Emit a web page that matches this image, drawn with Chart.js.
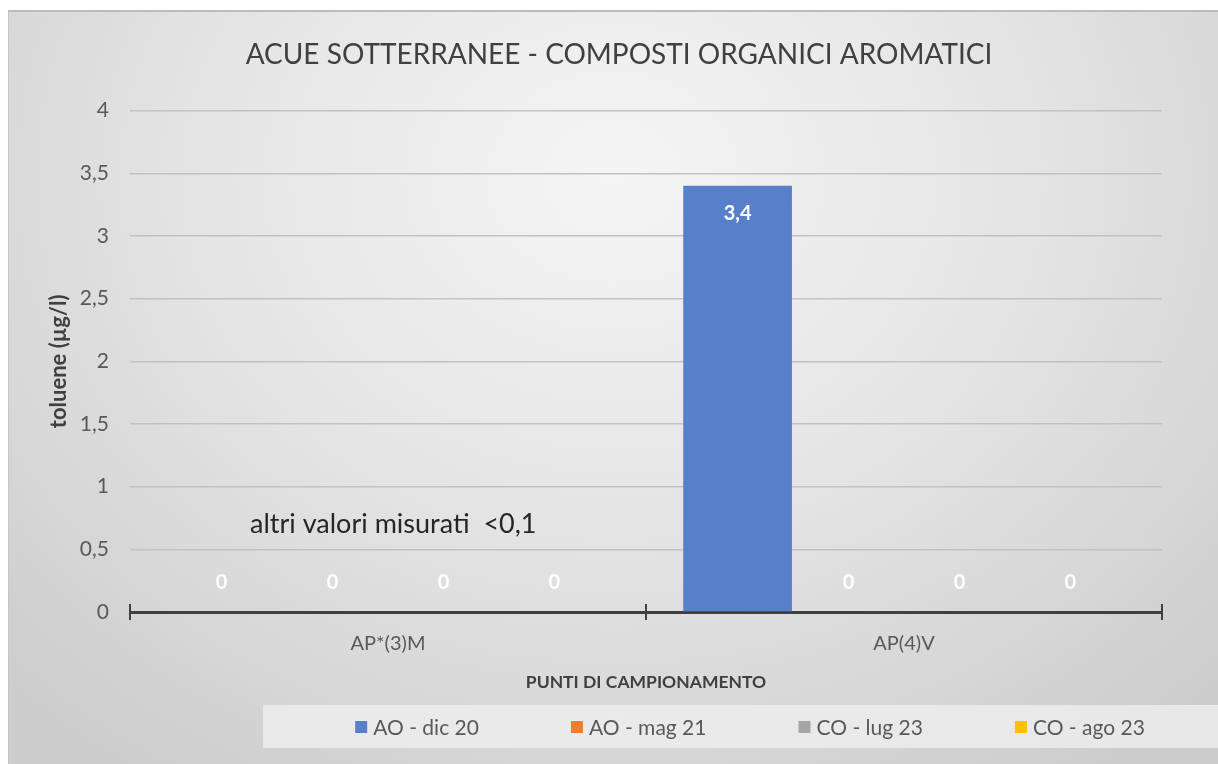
<!DOCTYPE html>
<html>
<head>
<meta charset="utf-8">
<script src="https://cdn.jsdelivr.net/npm/chart.js@4.4.0/dist/chart.umd.min.js"></script>
<style>
  html, body { margin: 0; padding: 0; background: #fff; }
  #frame {
    position: absolute; left: 8px; top: 10px; width: 1210px; height: 754px;
    box-sizing: border-box;
    border-top: 2px solid #bcbcbc; border-left: 1px solid #c6c6c6;
    background: radial-gradient(ellipse 70% 95% at 50% 22%, #f5f5f5 0%, #e4e4e4 50%, #cdcdcd 100%);
  }
  #wrap { position: absolute; left: 0; top: 0; width: 1218px; height: 764px; }
</style>
</head>
<body>
<div id="frame"></div>
<div id="wrap"><canvas id="chart" width="1218" height="764"></canvas></div>
<script>
const categories = ['AP*(3)M', 'AP(4)V'];
const seriesNames = ['AO - dic 20', 'AO - mag 21', 'CO - lug 23', 'CO - ago 23'];
const aoDic20 = [0, 3.4];
const aoMag21 = [0, 0];
const coLug23 = [0, 0];
const coAgo23 = [0, 0];
const yMin = 0, yMax = 4, yStep = 0.5;

const seriesColors = ['#5880ca', '#ed7d31', '#a5a5a5', '#ffc000'];
const FONT = 'Lato';

const fmt = v => String(v).replace('.', ',');

// white value labels, inside top of bar (or just above the axis when zero)
const valueLabels = {
  id: 'valueLabels',
  afterDatasetsDraw(chart) {
    const ctx = chart.ctx;
    ctx.save();
    ctx.font = 'bold 20px ' + FONT;
    ctx.fillStyle = '#ffffff';
    ctx.textAlign = 'center';
    ctx.textBaseline = 'middle';
    chart.data.datasets.forEach((ds, i) => {
      chart.getDatasetMeta(i).data.forEach((bar, j) => {
        const v = ds.data[j];
        const y = v > 0 ? bar.y + 28 : bar.y - 29;
        ctx.fillText(fmt(v), bar.x, y);
      });
    });
    ctx.restore();
  }
};

// axis tick marks at category boundaries + note text
const extras = {
  id: 'extras',
  afterDatasetsDraw(chart) {
    const ctx = chart.ctx;
    const x = chart.scales.x, y = chart.scales.y;
    const base = y.getPixelForValue(0);
    ctx.save();
    ctx.strokeStyle = '#404040';
    ctx.lineWidth = 2;
    const n = categories.length;
    for (let i = 0; i <= n; i++) {
      const px = x.left + i * (x.width / n);
      ctx.beginPath();
      ctx.moveTo(px, base - 8);
      ctx.lineTo(px, base + 8);
      ctx.stroke();
    }
    ctx.font = '27px ' + FONT;
    ctx.fillStyle = '#262626';
    ctx.textAlign = 'left';
    ctx.textBaseline = 'middle';
    ctx.fillText('altri valori misurati  <0,1', x.left + 120, y.getPixelForValue(0.7));
    ctx.restore();
  }
};

// legend in a light box at the bottom right
const boxLegend = {
  id: 'boxLegend',
  afterDraw(chart) {
    const ctx = chart.ctx;
    ctx.save();
    ctx.fillStyle = 'rgba(240,240,240,0.75)';
    ctx.fillRect(263, 705, 955, 43);
    ctx.font = '21px ' + FONT;
    ctx.textBaseline = 'middle';
    ctx.textAlign = 'left';
    const sq = 12, gap = 6, between = 92;
    const widths = chart.data.datasets.map(ds => sq + gap + ctx.measureText(ds.label).width);
    const total = widths.reduce((a, b) => a + b, 0) + between * (widths.length - 1);
    let cx = 750 - total / 2;
    const cy = 727;
    chart.data.datasets.forEach((ds, i) => {
      ctx.fillStyle = ds.backgroundColor;
      ctx.fillRect(cx, cy - sq / 2, sq, sq);
      ctx.fillStyle = '#595959';
      ctx.fillText(ds.label, cx + sq + gap, cy + 1);
      cx += widths[i] + between;
    });
    ctx.restore();
  }
};

const seriesData = [aoDic20, aoMag21, coLug23, coAgo23];

new Chart(document.getElementById('chart'), {
  type: 'bar',
  data: {
    labels: categories,
    datasets: seriesNames.map((name, i) => ({
      label: name,
      data: seriesData[i],
      backgroundColor: seriesColors[i],
      borderWidth: 0,
      categoryPercentage: 0.86,
      barPercentage: 0.98
    }))
  },
  options: {
    responsive: false,
    animation: false,
    layout: { padding: { left: 20, right: 0, top: 0, bottom: 62 } },
    plugins: {
      legend: { display: false },
      tooltip: { enabled: false },
      title: {
        display: true,
        text: 'ACUE SOTTERRANEE - COMPOSTI ORGANICI AROMATICI',
        color: '#404040',
        font: { family: FONT, size: 28, weight: 'normal' },
        padding: { top: 38, bottom: 39 }
      }
    },
    scales: {
      x: {
        grid: { display: false, drawTicks: false },
        border: { display: true, color: '#404040', width: 3 },
        ticks: { color: '#595959', font: { family: FONT, size: 20 }, padding: 20 },
        title: {
          display: true, text: 'PUNTI DI CAMPIONAMENTO', color: '#404040',
          font: { family: FONT, size: 17.5, weight: 'bold' }, padding: { top: 0, bottom: 9 }
        },
        afterFit: s => { s.height = 90; }
      },
      y: {
        min: yMin, max: yMax,
        grid: { color: '#c2c2c2', lineWidth: 1.5, drawTicks: false },
        border: { display: false },
        ticks: { stepSize: yStep, color: '#595959', font: { family: FONT, size: 21 }, padding: 21,
                 callback: v => fmt(v) },
        title: {
          display: true, text: 'toluene (µg/l)', color: '#404040',
          font: { family: FONT, size: 22, weight: 'bold' }, padding: { top: 26, bottom: 0 }
        },
        afterFit: s => { s.width = 110; }
      },
      yRight: {
        position: 'right',
        grid: { display: false, drawTicks: false },
        border: { display: false },
        ticks: { display: false },
        afterFit: s => { s.width = 56; }
      }
    }
  },
  plugins: [valueLabels, extras, boxLegend]
});
</script>
</body>
</html>
